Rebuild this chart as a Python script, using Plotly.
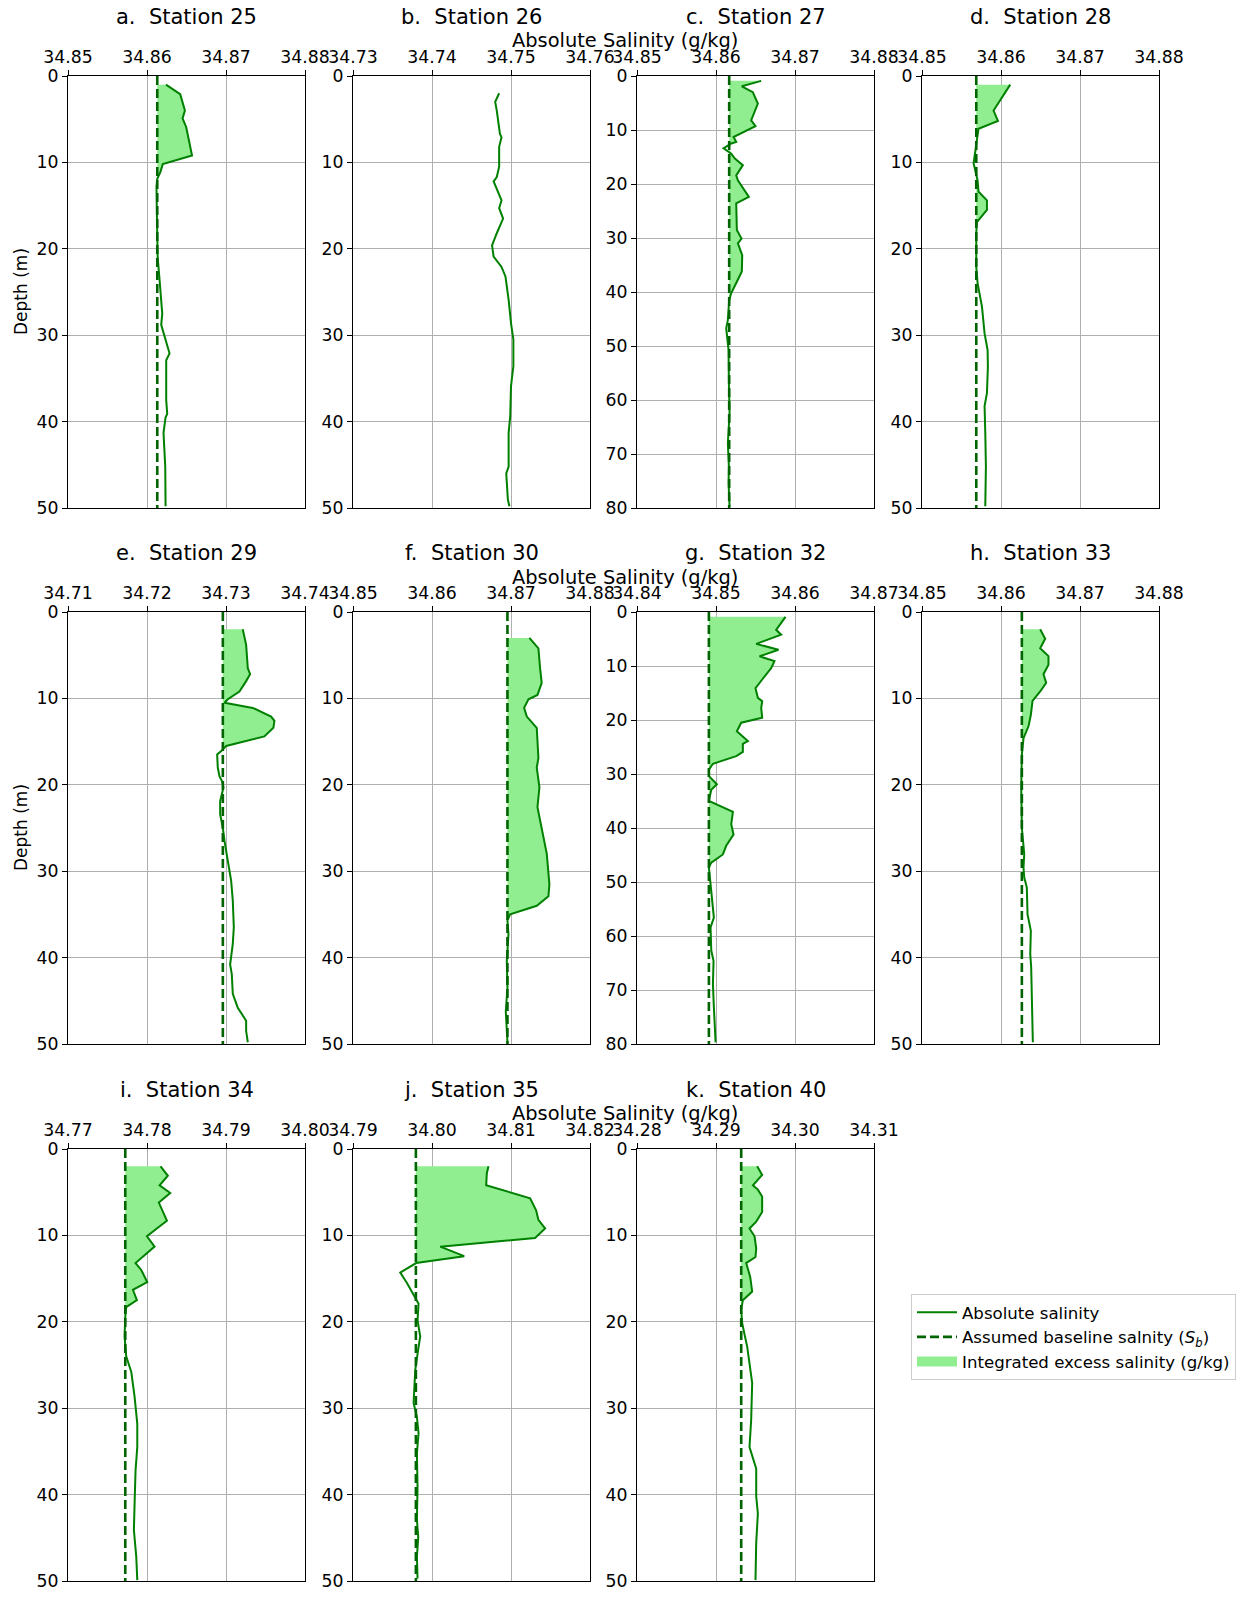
import plotly.graph_objects as go

# ---------------- data ----------------
titles = ["a.  Station 25", "b.  Station 26", "c.  Station 27", "d.  Station 28",
          "e.  Station 29", "f.  Station 30", "g.  Station 32", "h.  Station 33",
          "i.  Station 34", "j.  Station 35", "k.  Station 40"]

x_ticks_a = ["34.85", "34.86", "34.87", "34.88"]
x_ticks_b = ["34.73", "34.74", "34.75", "34.76"]
x_ticks_c = ["34.85", "34.86", "34.87", "34.88"]
x_ticks_d = ["34.85", "34.86", "34.87", "34.88"]
x_ticks_e = ["34.71", "34.72", "34.73", "34.74"]
x_ticks_f = ["34.85", "34.86", "34.87", "34.88"]
x_ticks_g = ["34.84", "34.85", "34.86", "34.87"]
x_ticks_h = ["34.85", "34.86", "34.87", "34.88"]
x_ticks_i = ["34.77", "34.78", "34.79", "34.80"]
x_ticks_j = ["34.79", "34.80", "34.81", "34.82"]
x_ticks_k = ["34.28", "34.29", "34.30", "34.31"]

depth_max = [50, 50, 80, 50, 50, 50, 80, 50, 50, 50, 50]

depth_a = [1.0, 2.1, 4.0, 4.9, 5.9, 9.2, 10.2, 11.1, 11.9, 12.8, 16.0, 20.0, 21.0, 23.6, 27.5,
           28.8, 31.7, 32.1, 32.9, 34.8, 37.5, 39.1, 39.5, 41.3, 45.2, 49.8]
sal_a = [34.86240, 34.86420, 34.86480, 34.86450, 34.86496, 34.86570, 34.86200, 34.86170, 34.86130,
         34.86120, 34.86125, 34.86130, 34.86135, 34.86159, 34.86193, 34.86180, 34.86277, 34.86285,
         34.86243, 34.86243, 34.86243, 34.86256, 34.86235, 34.86209, 34.86231, 34.86235]

depth_b = [2.0, 3.0, 4.0, 6.7, 7.1, 8.2, 10.5, 11.7, 12.2, 13.0, 14.4, 15.3, 16.5, 18.2, 19.6,
           20.9, 22.1, 23.2, 25.9, 28.6, 30.5, 33.6, 35.9, 39.4, 41.3, 45.2, 46.0, 49.0, 49.8]
sal_b = [34.7485, 34.7480, 34.7482, 34.7486, 34.7488, 34.7485, 34.7485, 34.7482, 34.7478, 34.7482,
         34.7488, 34.7485, 34.7490, 34.7482, 34.7476, 34.7478, 34.7488, 34.7493, 34.7497, 34.7500,
         34.7503, 34.7503, 34.7500, 34.7499, 34.7497, 34.7497, 34.7494, 34.7496, 34.7498]

depth_c = [0.9, 1.9, 3.0, 5.1, 8.2, 9.3, 11.3, 12.2, 12.5, 13.4, 14.4, 15.3, 16.5, 18.4, 19.3,
           22.4, 23.6, 26.1, 28.5, 30.1, 31.0, 33.2, 36.2, 38.1, 40.2, 41.5, 45.2, 46.7, 50.7,
           56.9, 62.4, 68.0, 72.3, 75.4, 79.7]
sal_c = [34.86572, 34.86327, 34.86466, 34.86530, 34.86445, 34.86500, 34.86222, 34.86256, 34.86193,
         34.86096, 34.86193, 34.86239, 34.86340, 34.86256, 34.86277, 34.86416, 34.86256, 34.86256,
         34.86264, 34.86323, 34.86277, 34.86332, 34.86327, 34.86264, 34.86193, 34.86167, 34.86150,
         34.86129, 34.86159, 34.86163, 34.86172, 34.86150, 34.86163, 34.86159, 34.86172]

depth_d = [1.0, 4.0, 5.2, 6.1, 7.4, 10.1, 12.1, 13.4, 14.4, 15.5, 16.9, 18.2, 22.1, 24.0, 26.7,
           29.8, 31.7, 33.6, 36.7, 38.2, 41.3, 45.2, 49.8]
sal_d = [34.86117, 34.85906, 34.85961, 34.85716, 34.85695, 34.85653, 34.85704, 34.85716, 34.85822,
         34.85822, 34.85695, 34.85687, 34.85687, 34.85704, 34.85759, 34.85792, 34.85830, 34.85834,
         34.85822, 34.85792, 34.85801, 34.85809, 34.85801]

depth_e = [2.0, 3.8, 6.5, 7.2, 8.0, 9.2, 10.1, 10.5, 11.1, 12.1, 12.6, 13.4, 14.4, 14.9, 15.5,
           16.0, 16.5, 18.0, 19.0, 19.6, 20.3, 21.9, 23.4, 25.0, 26.5, 28.8, 31.1, 33.4, 36.5,
           38.4, 40.8, 41.9, 44.2, 45.8, 47.3, 48.5, 49.8]
sal_e = [34.73212, 34.73255, 34.73276, 34.73305, 34.73255, 34.73170, 34.73023, 34.72981, 34.73339,
         34.73571, 34.73613, 34.73600, 34.73486, 34.73255, 34.73002, 34.72951, 34.72888, 34.72896,
         34.72917, 34.72951, 34.72968, 34.72926, 34.72926, 34.72960, 34.72981, 34.73023, 34.73065,
         34.73086, 34.73099, 34.73086, 34.73052, 34.73073, 34.73086, 34.73149, 34.73255, 34.73255,
         34.73276]

depth_f = [3.0, 4.2, 6.5, 8.2, 9.6, 10.1, 11.1, 12.1, 13.4, 16.9, 18.0, 20.3, 22.6, 25.0, 28.0,
           31.5, 32.9, 34.0, 35.0, 35.7, 37.3, 40.4, 43.5, 46.2, 48.1, 49.8]
sal_f = [34.87233, 34.87347, 34.87368, 34.87389, 34.87335, 34.87221, 34.87166, 34.87200, 34.87326,
         34.87347, 34.87326, 34.87360, 34.87335, 34.87389, 34.87453, 34.87486, 34.87474, 34.87326,
         34.86989, 34.86955, 34.86968, 34.86947, 34.86955, 34.86934, 34.86947, 34.86955]

depth_g = [0.9, 3.3, 4.2, 5.9, 7.0, 8.2, 9.1, 10.4, 12.5, 14.1, 15.9, 16.5, 17.8, 19.6, 20.5,
           22.1, 23.9, 24.4, 25.9, 26.7, 28.1, 29.2, 30.4, 31.6, 31.9, 32.9, 34.4, 35.0, 37.0,
           39.3, 41.2, 43.3, 44.9, 46.4, 47.3, 50.4, 53.5, 56.6, 58.4, 62.7, 64.6, 68.9, 73.2,
           76.3, 79.7]
sal_g = [34.85880, 34.85761, 34.85825, 34.85509, 34.85791, 34.85551, 34.85740, 34.85698, 34.85585,
         34.85500, 34.85530, 34.85585, 34.85572, 34.85585, 34.85319, 34.85264, 34.85403, 34.85340,
         34.85340, 34.85256, 34.84961, 34.84910, 34.84910, 34.84982, 34.85011, 34.84940, 34.84919,
         34.84910, 34.85214, 34.85193, 34.85222, 34.85129, 34.85087, 34.84940, 34.84910, 34.84931,
         34.84961, 34.84973, 34.84931, 34.84940, 34.84969, 34.84961, 34.84973, 34.84986, 34.84995]

depth_h = [2.0, 3.1, 4.2, 5.1, 6.1, 7.2, 8.2, 9.2, 10.3, 11.9, 13.2, 14.6, 16.5, 20.3, 25.0,
           28.0, 29.6, 30.7, 31.9, 35.0, 36.9, 39.6, 41.1, 45.0, 49.8]
sal_h = [34.86496, 34.86559, 34.86496, 34.86601, 34.86601, 34.86538, 34.86572, 34.86496, 34.86399,
         34.86378, 34.86349, 34.86285, 34.86264, 34.86256, 34.86264, 34.86294, 34.86285, 34.86294,
         34.86327, 34.86336, 34.86378, 34.86370, 34.86382, 34.86391, 34.86403]

depth_i = [2.0, 3.1, 4.2, 5.1, 6.2, 8.3, 10.1, 11.3, 13.2, 14.0, 15.4, 16.3, 17.5, 18.3, 19.4,
           21.7, 24.0, 25.8, 28.7, 31.8, 34.5, 37.2, 41.0, 44.1, 47.2, 49.9]
sal_i = [34.78172, 34.78264, 34.78159, 34.78294, 34.78150, 34.78252, 34.77999, 34.78096, 34.77855,
         34.77927, 34.78003, 34.77822, 34.77872, 34.77737, 34.77725, 34.77716, 34.77737, 34.77801,
         34.77843, 34.77877, 34.77877, 34.77855, 34.77843, 34.77834, 34.77864, 34.77877]

depth_j = [2.0, 2.8, 4.2, 5.3, 5.7, 7.1, 8.2, 9.2, 10.3, 11.3, 12.4, 13.2, 14.3, 15.5, 17.1,
           17.9, 19.8, 21.7, 22.9, 25.6, 29.4, 31.0, 32.9, 35.2, 39.1, 42.9, 44.9, 47.2, 49.7]
sal_j = [34.80715, 34.80694, 34.80686, 34.81116, 34.81242, 34.81318, 34.81347, 34.81432, 34.81305,
         34.80104, 34.80408, 34.79800, 34.79598, 34.79683, 34.79788, 34.79830, 34.79817, 34.79851,
         34.79830, 34.79788, 34.79767, 34.79809, 34.79830, 34.79809, 34.79817, 34.79809, 34.79826,
         34.79809, 34.79817]

depth_k = [2.0, 3.0, 4.2, 4.7, 5.5, 7.3, 8.4, 9.2, 10.1, 11.5, 12.5, 13.2, 14.8, 16.5, 17.5,
           18.6, 20.2, 21.3, 22.9, 24.8, 27.1, 31.4, 34.5, 37.0, 40.2, 42.2, 45.6, 49.9]
sal_k = [34.29521, 34.29584, 34.29467, 34.29530, 34.29584, 34.29584, 34.29509, 34.29424, 34.29488,
         34.29509, 34.29500, 34.29382, 34.29433, 34.29458, 34.29340, 34.29319, 34.29332, 34.29361,
         34.29395, 34.29424, 34.29458, 34.29445, 34.29424, 34.29509, 34.29509, 34.29530, 34.29509,
         34.29500]

# assumed baseline salinity S_b (None = not shown)
baseline = [34.8613, None, 34.86167, 34.85687, 34.7296, 34.86955, 34.8491, 34.86264,
            34.77725, 34.79796, 34.29319]
# deepest depth included in the integrated excess
fill_to_depth = [12.8, None, 41.5, 18.2, 16.5, 35.7, 47.3, 16.5, 19.4, 13.2, 18.6]

depths = [depth_a, depth_b, depth_c, depth_d, depth_e, depth_f, depth_g, depth_h, depth_i, depth_j, depth_k]
sals = [sal_a, sal_b, sal_c, sal_d, sal_e, sal_f, sal_g, sal_h, sal_i, sal_j, sal_k]
xticks = [x_ticks_a, x_ticks_b, x_ticks_c, x_ticks_d, x_ticks_e, x_ticks_f, x_ticks_g,
          x_ticks_h, x_ticks_i, x_ticks_j, x_ticks_k]

# ---------------- layout geometry (pixels) ----------------
W, H = 1247, 1610
col_left = [68, 353, 637, 922]
panel_w = 237
row_top = [76, 612, 1149]
panel_h = 432

FONT = "DejaVu Sans"
LINE_GREEN = "#008000"
DARK_GREEN = "#006400"
LIGHT_GREEN = "#90EE90"
TICK_SIZE = 17.3


def px_x(p):
    return p / W


def px_y(p):
    return 1 - p / H


fig = go.Figure()
annotations = []

for i in range(11):
    r, c = divmod(i, 4)
    n = i + 1
    sfx = "" if n == 1 else str(n)
    xref, yref = "x" + sfx, "y" + sfx
    d, s = depths[i], sals[i]
    sb = baseline[i]
    tv = [float(t) for t in xticks[i]]

    # integrated excess fill
    if sb is not None:
        fd = [dd for dd in d if dd <= fill_to_depth[i]]
        fs = [max(ss, sb) for dd, ss in zip(d, s) if dd <= fill_to_depth[i]]
        poly_x = [sb] + fs + [sb]
        poly_y = [fd[0]] + fd + [fd[-1]]
        fig.add_trace(go.Scatter(x=poly_x, y=poly_y, mode="lines", fill="toself",
                                 fillcolor=LIGHT_GREEN, line=dict(width=0, color=LIGHT_GREEN),
                                 showlegend=False, hoverinfo="skip",
                                 xaxis=xref, yaxis=yref))
    # profile
    fig.add_trace(go.Scatter(x=s, y=d, mode="lines", line=dict(color=LINE_GREEN, width=2),
                             name="Absolute salinity", legendrank=1, showlegend=(i == 0),
                             xaxis=xref, yaxis=yref))
    # baseline
    if sb is not None:
        fig.add_trace(go.Scatter(x=[sb, sb], y=[0, depth_max[i]], mode="lines",
                                 line=dict(color=DARK_GREEN, width=2.6, dash="9px,4px"),
                                 name="Assumed baseline salnity (<i>S</i><sub><i>b</i></sub>)",
                                 legendrank=2, showlegend=(i == 0),
                                 xaxis=xref, yaxis=yref))

    x0 = col_left[c]
    y0 = row_top[r]
    eps = 1e-7
    fig.update_layout({
        "xaxis" + sfx: dict(
            domain=[px_x(x0), px_x(x0 + panel_w)], anchor=yref, side="top", automargin=False,
            range=[tv[0] - eps, tv[-1] + eps], tickmode="array", tickvals=tv, ticktext=xticks[i],
            showgrid=True, gridcolor="#b0b0b0", gridwidth=1, zeroline=False,
            showline=True, linecolor="black", linewidth=1.2, mirror=True,
            ticks="outside", ticklen=5, tickwidth=1, tickcolor="black",
            tickfont=dict(family=FONT, size=TICK_SIZE, color="black"), ticklabeloverflow="allow"),
        "yaxis" + sfx: dict(
            domain=[px_y(y0 + panel_h), px_y(y0)], anchor=xref, automargin=False,
            range=[depth_max[i] + 1e-6, -1e-6], tickmode="array",
            tickvals=list(range(0, depth_max[i] + 1, 10)),
            showgrid=True, gridcolor="#b0b0b0", gridwidth=1, zeroline=False,
            showline=True, linecolor="black", linewidth=1.2, mirror=True,
            ticks="outside", ticklen=5, tickwidth=1, tickcolor="black",
            tickfont=dict(family=FONT, size=TICK_SIZE, color="black")),
    })

    title_y = [17, 553, 1090][r]
    annotations.append(dict(text=titles[i], x=px_x(x0 + panel_w / 2), y=px_y(title_y),
                            xref="paper", yref="paper", showarrow=False, xanchor="center",
                            yanchor="middle", font=dict(family=FONT, size=21, color="black")))

# legend-only entry for the filled excess area
fig.add_trace(go.Scatter(x=[None], y=[None], mode="lines",
                         line=dict(color=LIGHT_GREEN, width=10),
                         name="Integrated excess salinity (g/kg)", legendrank=3,
                         showlegend=True, xaxis="x", yaxis="y"))

# row x-axis labels
for yy in [40, 577, 1113]:
    annotations.append(dict(text="Absolute Salinity (g/kg)", x=px_x(625), y=px_y(yy),
                            xref="paper", yref="paper", showarrow=False, xanchor="center",
                            yanchor="middle", font=dict(family=FONT, size=19.4, color="black")))
# depth labels
for r in range(2):
    annotations.append(dict(text="Depth (m)", x=px_x(21), y=px_y(row_top[r] + panel_h / 2),
                            xref="paper", yref="paper", showarrow=False, textangle=-90,
                            xanchor="center", yanchor="middle",
                            font=dict(family=FONT, size=17, color="black")))

fig.update_layout(
    width=W, height=H, margin=dict(l=0, r=0, t=0, b=0, autoexpand=False),
    paper_bgcolor="white", plot_bgcolor="white",
    font=dict(family=FONT, color="black"),
    annotations=annotations,
    legend=dict(x=px_x(911), y=px_y(1294), xanchor="left", yanchor="top",
                bordercolor="#cccccc", borderwidth=1, bgcolor="white",
                font=dict(family=FONT, size=16.6, color="black"),
                traceorder="normal", itemwidth=40),
    showlegend=True,
)

fig.write_html("out.html")
